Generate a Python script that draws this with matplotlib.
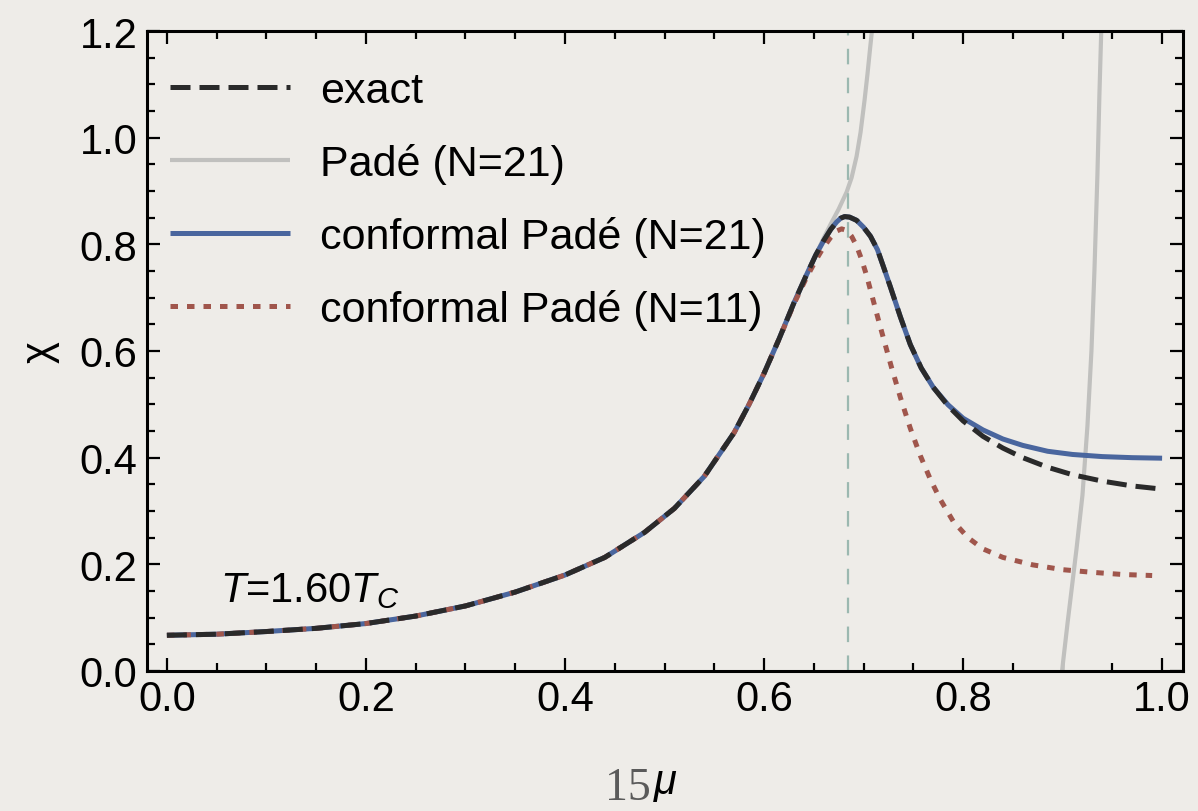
import matplotlib
matplotlib.use("Agg")
import matplotlib.pyplot as plt
from matplotlib.ticker import MultipleLocator, FormatStrFormatter

# ---------------- data ----------------
mu_exact = [0.0, 0.05, 0.1, 0.15, 0.2, 0.25, 0.3, 0.35, 0.4, 0.44, 0.48,
            0.51, 0.54, 0.57, 0.585, 0.60, 0.615, 0.63, 0.642, 0.652, 0.66,
            0.667, 0.673, 0.677, 0.681, 0.686, 0.693, 0.70, 0.707, 0.714,
            0.72, 0.727, 0.737, 0.747, 0.758, 0.77, 0.785, 0.80, 0.82, 0.84,
            0.86, 0.885, 0.91, 0.94, 0.97, 1.0]
chi_exact = [0.067, 0.069, 0.074, 0.080, 0.089, 0.103, 0.122, 0.148, 0.18,
             0.213, 0.26, 0.305, 0.365, 0.447, 0.50, 0.558, 0.622, 0.69,
             0.74, 0.78, 0.807, 0.828, 0.842, 0.849, 0.852, 0.851, 0.845,
             0.832, 0.815, 0.79, 0.758, 0.72, 0.664, 0.612, 0.568, 0.532,
             0.497, 0.469, 0.44, 0.418, 0.40, 0.382, 0.368, 0.356, 0.347,
             0.341]

mu_cp21 = [0.0, 0.05, 0.1, 0.15, 0.2, 0.25, 0.3, 0.35, 0.4, 0.44, 0.48,
           0.51, 0.54, 0.57, 0.585, 0.60, 0.615, 0.63, 0.642, 0.652, 0.66,
           0.667, 0.673, 0.677, 0.681, 0.686, 0.693, 0.70, 0.707, 0.714,
           0.72, 0.727, 0.737, 0.747, 0.758, 0.77, 0.785, 0.80, 0.82, 0.84,
           0.86, 0.885, 0.91, 0.94, 0.97, 1.0]
chi_cp21 = [0.067, 0.069, 0.074, 0.080, 0.089, 0.103, 0.122, 0.148, 0.18,
            0.213, 0.26, 0.305, 0.365, 0.447, 0.50, 0.558, 0.622, 0.69,
            0.74, 0.78, 0.807, 0.828, 0.842, 0.849, 0.852, 0.851, 0.845,
            0.832, 0.815, 0.79, 0.758, 0.72, 0.664, 0.612, 0.568, 0.532,
            0.499, 0.474, 0.452, 0.435, 0.423, 0.412, 0.406, 0.402, 0.400,
            0.399]

mu_cp11 = [0.0, 0.05, 0.1, 0.15, 0.2, 0.25, 0.3, 0.35, 0.4, 0.44, 0.48,
           0.51, 0.54, 0.57, 0.585, 0.60, 0.615, 0.63, 0.642, 0.652, 0.66,
           0.667, 0.673, 0.678, 0.683, 0.688, 0.693, 0.698, 0.703, 0.709,
           0.715, 0.72, 0.728, 0.737, 0.747, 0.757, 0.767, 0.777, 0.79,
           0.805, 0.82, 0.84, 0.87, 0.90, 0.93, 0.96, 0.99]
chi_cp11 = [0.067, 0.069, 0.074, 0.080, 0.089, 0.103, 0.122, 0.148, 0.18,
            0.213, 0.26, 0.305, 0.365, 0.447, 0.50, 0.558, 0.622, 0.688,
            0.735, 0.77, 0.795, 0.813, 0.825, 0.829, 0.826, 0.815, 0.797,
            0.772, 0.742, 0.70, 0.658, 0.624, 0.57, 0.513, 0.455, 0.404,
            0.36, 0.322, 0.281, 0.25, 0.229, 0.213, 0.199, 0.19, 0.185,
            0.181, 0.179]

mu_pade21_a = [0.0, 0.05, 0.1, 0.15, 0.2, 0.25, 0.3, 0.35, 0.4, 0.44, 0.48,
               0.51, 0.54, 0.57, 0.585, 0.60, 0.615, 0.63, 0.642, 0.652,
               0.66, 0.667, 0.675, 0.683, 0.688, 0.693, 0.697, 0.701, 0.704,
               0.7065, 0.709]
chi_pade21_a = [0.067, 0.069, 0.074, 0.080, 0.089, 0.103, 0.122, 0.148, 0.18,
                0.213, 0.26, 0.305, 0.365, 0.447, 0.50, 0.558, 0.622, 0.69,
                0.74, 0.78, 0.812, 0.838, 0.866, 0.898, 0.925, 0.965, 1.01,
                1.07, 1.12, 1.166, 1.21]
mu_pade21_b = [0.8995, 0.9005, 0.905, 0.914, 0.92, 0.925, 0.929, 0.932,
               0.935, 0.937, 0.939]
chi_pade21_b = [0.0, 0.017, 0.09, 0.229, 0.33, 0.46, 0.60, 0.75, 0.93,
                1.08, 1.21]

mu_marker = 0.684

x_ticks = [0.0, 0.2, 0.4, 0.6, 0.8, 1.0]
y_ticks = [0.0, 0.2, 0.4, 0.6, 0.8, 1.0, 1.2]

labels = ["exact", "Padé (N=21)", "conformal Padé (N=21)", "conformal Padé (N=11)"]

# ---------------- style ----------------
BG = "#eeece8"
C_EXACT = "#2a2a2a"
C_PADE = "#c0c0be"
C_BLUE = "#4a669e"
C_RED = "#a0564c"
C_VLINE = "#9bb8b0"

plt.rcParams["font.family"] = ["Liberation Sans", "DejaVu Sans"]
plt.rcParams["mathtext.fontset"] = "custom"
plt.rcParams["mathtext.it"] = "Liberation Sans:italic"
plt.rcParams["mathtext.rm"] = "Liberation Sans"

fig = plt.figure(figsize=(11.98, 8.12), dpi=100, facecolor=BG)
ax = fig.add_axes([147 / 1198, 140 / 812, 1036 / 1198, 640 / 812])
ax.set_facecolor(BG)

lw = 3.6
h_pade, = ax.plot(mu_pade21_a, chi_pade21_a, color=C_PADE, lw=3.0,
                  solid_capstyle="butt", solid_joinstyle="round", zorder=2)
ax.plot(mu_pade21_b, chi_pade21_b, color=C_PADE, lw=3.0,
        solid_capstyle="butt", solid_joinstyle="round", zorder=2)
ax.axvline(mu_marker, color=C_VLINE, lw=1.6, dashes=(7, 6), zorder=2.5)
h_blue, = ax.plot(mu_cp21, chi_cp21, color=C_BLUE, lw=lw,
                  solid_capstyle="butt", solid_joinstyle="round", zorder=3)
h_red, = ax.plot(mu_cp11, chi_cp11, color=C_RED, lw=lw,
                 dashes=(1.5, 1.8), zorder=4)
h_exact, = ax.plot(mu_exact, chi_exact, color=C_EXACT, lw=lw,
                   dashes=(4.0, 1.8), zorder=5)

ax.set_xlim(-0.02, 1.021)
ax.set_ylim(0, 1.2)

ax.set_xticks(x_ticks)
ax.set_yticks(y_ticks)
ax.xaxis.set_minor_locator(MultipleLocator(0.05))
ax.yaxis.set_minor_locator(MultipleLocator(0.05))
ax.xaxis.set_major_formatter(FormatStrFormatter("%.1f"))
ax.yaxis.set_major_formatter(FormatStrFormatter("%.1f"))

ax.tick_params(which="both", direction="in", top=True, right=True,
               width=1.6, color="black")
ax.tick_params(which="major", length=9.5, labelsize=30)
ax.tick_params(axis="x", which="major", pad=6)
ax.tick_params(axis="y", which="major", pad=7)
ax.tick_params(which="minor", length=5.5)
for s in ax.spines.values():
    s.set_linewidth(2.2)

ax.set_ylabel("χ", fontsize=30, va="center")
ax.yaxis.set_label_coords(-0.104, 0.5)
ax.set_xlabel("μ", fontsize=30, style="italic", va="top")
ax.xaxis.set_label_coords(0.5, -0.142)

ax.text(0.053, 0.131, r"$T$=1.60$T_C$", fontsize=30, va="baseline",
        ha="left")

leg = ax.legend([h_exact, h_pade, h_blue, h_red], labels, loc="upper left",
                bbox_to_anchor=(0.022, 0.937), frameon=False, fontsize=31,
                handlelength=2.8, handletextpad=0.68, labelspacing=0.74,
                borderpad=0, borderaxespad=0)

# page number of the slide, overlapping the axis label
fig.text(628 / 1198, 2 / 812, "15", fontsize=33, color="#5a5a5a",
         family=["Liberation Serif", "DejaVu Serif"], ha="center",
         va="bottom")

fig.savefig("out.png", dpi=100, facecolor=BG)
